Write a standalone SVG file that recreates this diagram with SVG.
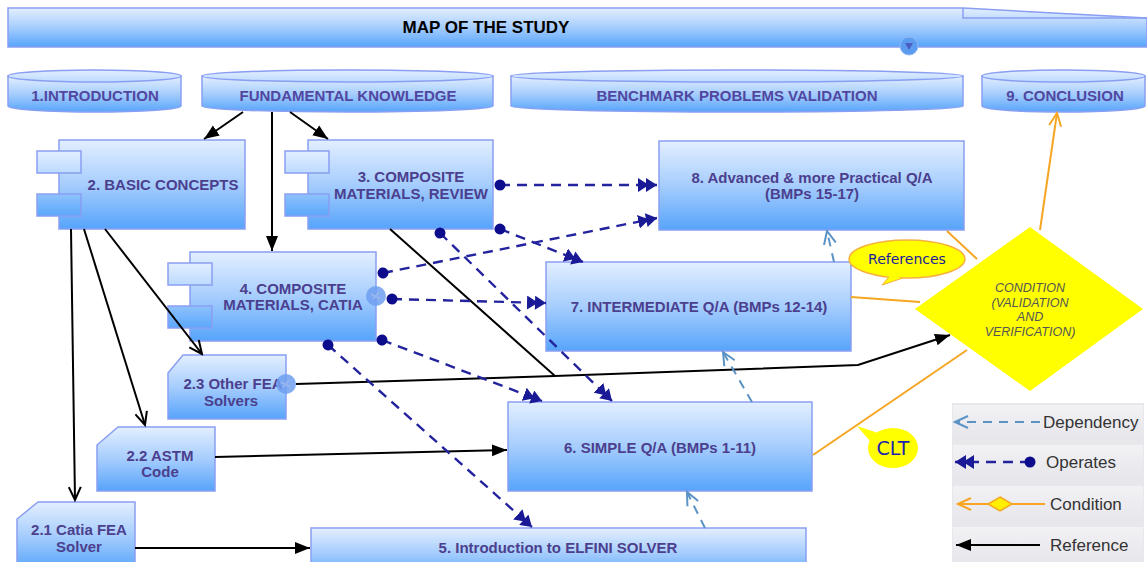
<svg xmlns="http://www.w3.org/2000/svg" width="1147" height="562" viewBox="0 0 1147 562">
<defs>
<linearGradient id="gBox" x1="0" y1="0" x2="0" y2="1">
<stop offset="0" stop-color="#e3efff"/>
<stop offset="0.5" stop-color="#a6cdfd"/>
<stop offset="1" stop-color="#56a4fb"/>
</linearGradient>
<linearGradient id="gTab" x1="0" y1="0" x2="0" y2="1">
<stop offset="0" stop-color="#e3efff"/>
<stop offset="1" stop-color="#bcdaff"/>
</linearGradient>
<linearGradient id="gTab2" x1="0" y1="0" x2="0" y2="1">
<stop offset="0" stop-color="#8fc2fd"/>
<stop offset="1" stop-color="#5aa6fb"/>
</linearGradient>
<linearGradient id="gLeg" x1="0" y1="0" x2="0" y2="1">
<stop offset="0" stop-color="#f2f2f5"/>
<stop offset="1" stop-color="#e6e6eb"/>
</linearGradient>
<marker id="mRef" markerUnits="userSpaceOnUse" markerWidth="16" markerHeight="14" refX="15" refY="7" orient="auto">
<path d="M0,1 L15,7 L0,13 Z" fill="#000"/>
</marker>
<marker id="mRefOpen" markerUnits="userSpaceOnUse" markerWidth="16" markerHeight="14" refX="14" refY="7" orient="auto">
<path d="M1,1 L14,7 L1,13" fill="none" stroke="#000" stroke-width="2"/>
</marker>
<marker id="mOp" markerUnits="userSpaceOnUse" markerWidth="20" markerHeight="14" refX="19" refY="7" orient="auto">
<path d="M0,0 L11,7 L0,14 Z M8,0 L19,7 L8,14 Z" fill="#1a1a96"/>
</marker>
<marker id="mOpStart" markerUnits="userSpaceOnUse" markerWidth="12" markerHeight="12" refX="6" refY="6" orient="auto">
<circle cx="6" cy="6" r="5.5" fill="#0c0c8c"/>
</marker>
<marker id="mDep" markerUnits="userSpaceOnUse" markerWidth="16" markerHeight="14" refX="14" refY="7" orient="auto">
<path d="M1,1 L14,7 L1,13" fill="none" stroke="#5b93c6" stroke-width="2"/>
</marker>
<marker id="mCond" markerUnits="userSpaceOnUse" markerWidth="16" markerHeight="14" refX="14" refY="7" orient="auto">
<path d="M1,1 L14,7 L1,13" fill="none" stroke="#f6a623" stroke-width="2"/>
</marker>
</defs>
<style>
.box{fill:url(#gBox);stroke:#8a9ef2;stroke-width:1.5}
.tab{fill:url(#gTab);stroke:#8a9ef2;stroke-width:1.5}
.tab2{fill:url(#gTab2);stroke:#8a9ef2;stroke-width:1.5}
.lbl{font-family:"Liberation Sans",Arial,sans-serif;font-size:15px;font-weight:bold;fill:#4b3f8e;text-anchor:middle}
.hdr{font-family:"Liberation Sans",Arial,sans-serif;font-size:15px;font-weight:bold;fill:#5147a0;text-anchor:middle}
.ref{fill:none;stroke:#000;stroke-width:2}
.op{fill:none;stroke:#23239e;stroke-width:2.4;stroke-dasharray:10,7}
.dep{fill:none;stroke:#5b93c6;stroke-width:2;stroke-dasharray:9,7}
.cond{fill:none;stroke:#f6a623;stroke-width:2}
.leg{font-family:"Liberation Sans",Arial,sans-serif;font-size:17px;fill:#333}
.dia{font-family:"Liberation Sans",Arial,sans-serif;font-size:12.5px;font-style:italic;fill:#555;text-anchor:middle}
.bubble{fill:#ffff00}
</style>
<rect width="1147" height="562" fill="#fff"/>

<g id="title">
<path d="M8,8 L963,8 L1147,18 L1147,47 L8,47 Z" class="box"/>
<path d="M963,8 L963,18 L1147,18" fill="none" stroke="#8a9ef2" stroke-width="1.5"/>
<text x="486" y="33" font-family="Liberation Sans,Arial,sans-serif" font-size="17" font-weight="bold" fill="#000" text-anchor="middle">MAP OF THE STUDY</text>
<circle cx="909" cy="46" r="9" fill="#5b9cf0" stroke="#8fb8f5" stroke-width="1"/>
<path d="M905,43 L913,43 L909,50 Z" fill="#4a5fc0"/>
</g>

<g id="h-intro">
<path d="M8,76 L8,106 A86.5,6 0 0 0 181,106 L181,76 Z" class="box"/>
<ellipse cx="94.5" cy="76" rx="86.5" ry="6" class="tab"/>
<text x="95" y="101" class="hdr">1.INTRODUCTION</text>
</g>
<g id="h-fund">
<path d="M202,76 L202,106 A145.5,6 0 0 0 493,106 L493,76 Z" class="box"/>
<ellipse cx="347.5" cy="76" rx="145.5" ry="6" class="tab"/>
<text x="348" y="101" class="hdr">FUNDAMENTAL KNOWLEDGE</text>
</g>
<g id="h-bench">
<path d="M511,76 L511,106 A226,6 0 0 0 963,106 L963,76 Z" class="box"/>
<ellipse cx="737" cy="76" rx="226" ry="6" class="tab"/>
<text x="737" y="101" class="hdr">BENCHMARK PROBLEMS VALIDATION</text>
</g>
<g id="h-concl">
<path d="M982,76 L982,106 A81.5,6 0 0 0 1145,106 L1145,76 Z" class="box"/>
<ellipse cx="1063.5" cy="76" rx="81.5" ry="6" class="tab"/>
<text x="1065" y="101" class="hdr">9. CONCLUSION</text>
</g>

<g id="n2">
<rect x="59" y="140" width="186" height="89" class="box"/>
<rect x="37" y="151" width="44" height="22" class="tab"/>
<rect x="37" y="194" width="44" height="22" class="tab2"/>
<text x="163" y="190" class="lbl">2. BASIC CONCEPTS</text>
</g>
<g id="n3">
<rect x="308" y="140" width="185" height="89" class="box"/>
<rect x="285" y="151" width="44" height="22" class="tab"/>
<rect x="285" y="194" width="44" height="22" class="tab2"/>
<text x="411" y="182" class="lbl">3. COMPOSITE</text>
<text x="411" y="199" class="lbl">MATERIALS, REVIEW</text>
</g>
<g id="n4">
<rect x="190" y="252" width="186" height="89" class="box"/>
<rect x="168" y="263" width="44" height="22" class="tab"/>
<rect x="168" y="306" width="44" height="22" class="tab2"/>
<text x="293" y="294" class="lbl">4. COMPOSITE</text>
<text x="293" y="310" class="lbl">MATERIALS, CATIA</text>
<circle cx="376" cy="296" r="10" fill="#6e9ff0" opacity="0.85"/>
<path d="M371,294 L380,299 M373,299 L379,292" stroke="#9ab8ee" stroke-width="1.5"/>
</g>
<g id="n8">
<rect x="659" y="141" width="305" height="89" class="box"/>
<text x="812" y="183" class="lbl">8. Advanced &amp; more Practical Q/A</text>
<text x="812" y="199" class="lbl">(BMPs 15-17)</text>
</g>
<g id="n7">
<rect x="546" y="262" width="305" height="89" class="box"/>
<text x="699" y="312" class="lbl">7. INTERMEDIATE Q/A (BMPs 12-14)</text>
</g>
<g id="n6">
<rect x="508" y="402" width="304" height="89" class="box"/>
<text x="660" y="453" class="lbl">6. SIMPLE Q/A (BMPs 1-11)</text>
</g>
<g id="n5">
<rect x="311" y="528" width="495" height="50" class="box"/>
<text x="558" y="553" class="lbl">5. Introduction to ELFINI SOLVER</text>
</g>
<g id="n23">
<path d="M183,355 L286,355 L286,419 L168,419 L168,373 Z" class="box"/>
<text x="233" y="389" class="lbl">2.3 Other FEA</text>
<text x="231" y="406" class="lbl">Solvers</text>
<circle cx="286" cy="384" r="10" fill="#6e9ff0" opacity="0.85"/>
<path d="M281,382 L290,387 M283,387 L289,380" stroke="#9ab8ee" stroke-width="1.5"/>
</g>
<g id="n22">
<path d="M118,427 L215,427 L215,491 L97,491 L97,445 Z" class="box"/>
<text x="160" y="461" class="lbl">2.2 ASTM</text>
<text x="160" y="477" class="lbl">Code</text>
</g>
<g id="n21">
<path d="M38,502 L135,502 L135,570 L17,570 L17,519 Z" class="box"/>
<text x="79" y="535" class="lbl">2.1 Catia FEA</text>
<text x="79" y="552" class="lbl">Solver</text>
</g>
<g id="ndiamond">
<path d="M1030,227 L1143,309 L1030,391 L915,309 Z" fill="#ffff00"/>
<text x="1030" y="292" class="dia">CONDITION</text>
<text x="1030" y="307" class="dia">(VALIDATION</text>
<text x="1030" y="321" class="dia">AND</text>
<text x="1030" y="336" class="dia">VERIFICATION)</text>
</g>

<g id="connectors">
<path d="M243,112 L204,139" class="ref" marker-end="url(#mRef)"/>
<path d="M272,112 L272,251" class="ref" marker-end="url(#mRef)"/>
<path d="M290,112 L328,139" class="ref" marker-end="url(#mRef)"/>
<path d="M71,229 L75,500" class="ref" marker-end="url(#mRefOpen)"/>
<path d="M84,229 L145,425" class="ref" marker-end="url(#mRefOpen)"/>
<path d="M105,229 L202,354" class="ref" marker-end="url(#mRefOpen)"/>
<path d="M296,384 L555,376" class="ref"/>
<path d="M390,229 L555,376 L858,365 L950,335" class="ref" marker-end="url(#mRef)"/>
<path d="M215,457 L507,450" class="ref" marker-end="url(#mRef)"/>
<path d="M135,548 L310,548" class="ref" marker-end="url(#mRef)"/>

<path d="M500,185 L657,185" class="op" marker-start="url(#mOpStart)" marker-end="url(#mOp)"/>
<path d="M500,229 L583,262" class="op" marker-start="url(#mOpStart)" marker-end="url(#mOp)"/>
<path d="M383,273 L657,218" class="op" marker-start="url(#mOpStart)" marker-end="url(#mOp)"/>
<path d="M392,299 L546,303" class="op" marker-start="url(#mOpStart)" marker-end="url(#mOp)"/>
<path d="M382,340 L542,401" class="op" marker-start="url(#mOpStart)" marker-end="url(#mOp)"/>
<path d="M440,233 L612,401" class="op" marker-start="url(#mOpStart)" marker-end="url(#mOp)"/>
<path d="M328,345 L532,527" class="op" marker-start="url(#mOpStart)" marker-end="url(#mOp)"/>

<path d="M834,262 L827,231" class="dep" marker-end="url(#mDep)"/>
<path d="M752,402 L723,352" class="dep" marker-end="url(#mDep)"/>
<path d="M705,528 L687,492" class="dep" marker-end="url(#mDep)"/>

<path d="M1040,230 L1057,113" class="cond" marker-end="url(#mCond)"/>
<path d="M947,231 L977,259" class="cond"/>
<path d="M851,297 L920,302" class="cond"/>
<path d="M813,455 L967,350" class="cond"/>
</g>

<g id="callout-references">
<ellipse cx="907" cy="259" rx="58" ry="19" class="bubble" stroke="#f6b040" stroke-width="1.5"/>
<path d="M889,276 L903,278 L882,285 Z" class="bubble"/>
<path d="M889,277 L882,285 L903,278" fill="none" stroke="#f6b040" stroke-width="1"/>
<text x="907" y="264" font-family="DejaVu Sans,sans-serif" font-size="14" fill="#1c1c9c" text-anchor="middle">References</text>
</g>
<g id="callout-clt">
<ellipse cx="893" cy="448" rx="25" ry="20" class="bubble"/>
<path d="M870,441 L878,433 L857,426 Z" class="bubble"/>
<text x="893" y="455" font-family="DejaVu Sans,sans-serif" font-size="19" fill="#2222b0" text-anchor="middle">CLT</text>
</g>

<g id="legend">
<rect x="952" y="403" width="192" height="159" fill="#e7e7ec"/>
<rect x="953" y="405" width="190" height="35" fill="url(#gLeg)"/>
<rect x="953" y="445" width="190" height="35" fill="url(#gLeg)"/>
<rect x="953" y="486" width="190" height="36" fill="url(#gLeg)"/>
<rect x="953" y="527" width="190" height="35" fill="url(#gLeg)"/>
<path d="M1040,422 L955,422" class="dep" marker-end="url(#mDep)"/>
<text x="1043" y="428" class="leg">Dependency</text>
<path d="M1030,462 L955,462" class="op" marker-start="url(#mOpStart)" marker-end="url(#mOp)"/>
<text x="1046" y="468" class="leg">Operates</text>
<path d="M1045,504 L958,504" class="cond" marker-end="url(#mCond)"/>
<path d="M1000,497 L1012,504 L1000,511 L988,504 Z" fill="#ffef00" stroke="#f6a623" stroke-width="1.5"/>
<text x="1050" y="510" class="leg">Condition</text>
<path d="M1040,545 L956,545" class="ref" stroke-width="2.5" marker-end="url(#mRef)"/>
<text x="1050" y="551" class="leg">Reference</text>
</g>
</svg>
